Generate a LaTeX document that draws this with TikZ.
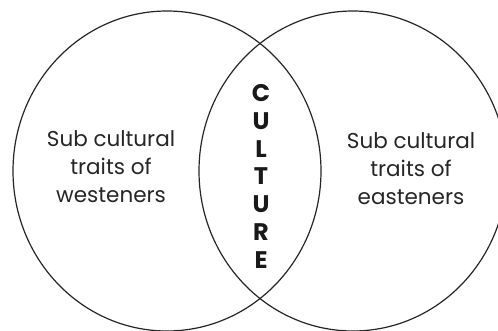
\documentclass[tikz,border=0pt]{standalone}
\usepackage{fontspec}
\setmainfont{Poppins}
\begin{document}
\begin{tikzpicture}[x=1pt,y=-1pt,
  ring/.style={draw=black!85,line width=1.2pt},
  side/.style={align=center,font=\fontsize{21.5}{28}\selectfont,text=black!85,inner sep=0pt},
  letter/.style={font=\fontsize{24}{24}\selectfont\bfseries,text=black!90,inner sep=0pt}]
\useasboundingbox (0,0) rectangle (498,330);
\fill[white] (0,0) rectangle (498,330);
\draw[ring] (167,171) ellipse [x radius=154, y radius=160];
\draw[ring] (353,171) ellipse [x radius=154, y radius=160];
\node[side] (west) at (111,167) {Sub cultural\\traits of\\westeners};
\node[side] (east) at (411,169) {Sub cultural\\traits of\\easteners};
\node[letter] (c1) at (261,93) {C};
\node[letter] (c2) at (261,121) {U};
\node[letter] (c3) at (261,149) {L};
\node[letter] (c4) at (261,176) {T};
\node[letter] (c5) at (261,204) {U};
\node[letter] (c6) at (261,232) {R};
\node[letter] (c7) at (261,260) {E};
\end{tikzpicture}
\end{document}
